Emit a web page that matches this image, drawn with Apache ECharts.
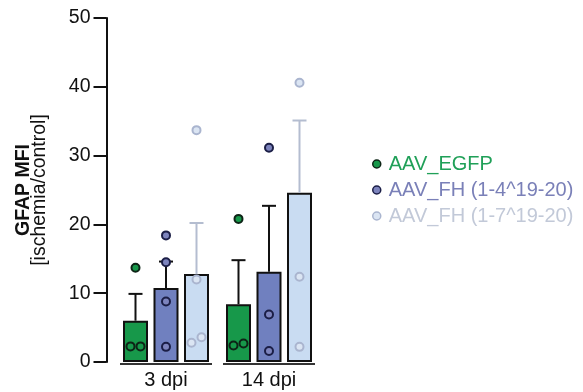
<!DOCTYPE html>
<html>
<head>
<meta charset="utf-8">
<script src="https://cdn.jsdelivr.net/npm/echarts@6/dist/echarts.min.js"></script>
<style>html,body{margin:0;padding:0;background:#fff}#c{width:583px;height:392px}</style>
</head>
<body>
<div id="c"></div>
<script>
// ---- data ----
var categories = ['3 dpi', '14 dpi'];
var seriesNames = ['AAV_EGFP', 'AAV_FH (1-4^19-20)', 'AAV_FH (1-7^19-20)'];
var meanEGFP = [6.0, 8.4];
var meanFH4 = [10.75, 13.1];
var meanFH7 = [12.8, 24.6];
var errEGFP = [3.9, 6.4];
var errFH4 = [3.85, 9.6];
var errFH7 = [7.4, 10.5];
var ptsEGFP = [[2.27, 2.27, 13.7], [2.4, 2.7, 20.8]];
var ptsFH4 = [[2.2, 8.8, 14.5, 18.4], [1.6, 6.9, 31.15]];
var ptsFH7 = [[2.8, 3.6, 12.0, 33.7], [2.2, 12.4, 40.6]];
var yTicks = [0, 10, 20, 30, 40, 50];

// ---- styling ----
var FONT = 'Liberation Sans, Arial, sans-serif';
var barColors = ['#17984a', '#7080bf', '#c9dcf2'];
var errColors = ['#111111', '#111111', '#b4bdd0'];
var ptFill = ['#17984a', '#7d84bd', '#dbe5f3'];
var ptStroke = ['#0d2416', '#1b1e46', '#aab5cf'];
var legendText = ['#20a058', '#7a80b8', '#c2c9d8'];
var BAR_W = 25, BAR_GAP = 0.22;
var STEP = BAR_W * (1 + BAR_GAP);

var means = [meanEGFP, meanFH4, meanFH7];
var errs = [errEGFP, errFH4, errFH7];
var pts = [ptsEGFP, ptsFH4, ptsFH7];

var series = [];
// bars
for (var k = 0; k < 3; k++) {
  series.push({
    name: seriesNames[k], type: 'bar', barWidth: BAR_W, barGap: (BAR_GAP * 100) + '%',
    data: means[k], z: 2,
    itemStyle: { color: barColors[k], borderColor: '#111', borderWidth: 2 },
    emphasis: { disabled: true }
  });
}
// error bars
for (var k = 0; k < 3; k++) {
  (function (k) {
    series.push({
      name: seriesNames[k], type: 'custom', z: 3,
      data: means[k].map(function (m, i) { return [i, m, m + errs[k][i]]; }),
      renderItem: function (params, api) {
        var base = api.coord([api.value(0), api.value(1)]);
        var top = api.coord([api.value(0), api.value(2)]);
        var cx = base[0] + (k - 1) * STEP;
        var st = { stroke: errColors[k], lineWidth: 2 };
        return { type: 'group', children: [
          { type: 'line', shape: { x1: cx, y1: base[1], x2: cx, y2: top[1] }, style: st },
          { type: 'line', shape: { x1: cx - 7, y1: top[1], x2: cx + 7, y2: top[1] }, style: st }
        ] };
      }
    });
  })(k);
}
// points with simple beeswarm spreading of near-equal values
for (var k = 0; k < 3; k++) {
  var data = [];
  pts[k].forEach(function (vals, ci) {
    var sorted = vals.slice().sort(function (a, b) { return a - b; });
    var clusters = [];
    sorted.forEach(function (v) {
      var last = clusters[clusters.length - 1];
      if (last && v - last[last.length - 1] < 1.2) last.push(v); else clusters.push([v]);
    });
    clusters.forEach(function (cl) {
      cl.forEach(function (v, j) {
        var dx = (j - (cl.length - 1) / 2) * 10;
        data.push({ value: [ci, v], symbolOffset: [(k - 1) * STEP + dx, 0] });
      });
    });
  });
  series.push({
    name: seriesNames[k], type: 'scatter', z: 4, symbol: 'circle', symbolSize: 8,
    data: data,
    itemStyle: { color: ptFill[k], borderColor: ptStroke[k], borderWidth: 2, opacity: 1 },
    emphasis: { disabled: true }
  });
}
// group underline
series.push({
  type: 'custom', z: 1, silent: true,
  data: categories.map(function (c, i) { return [i, 0]; }),
  renderItem: function (params, api) {
    var p = api.coord([api.value(0), 0]);
    var half = 1.5 * BAR_W + BAR_GAP * BAR_W + 3;
    return { type: 'line', shape: { x1: p[0] - half, y1: p[1] + 2, x2: p[0] + half, y2: p[1] + 2 },
      style: { stroke: '#333', lineWidth: 2 } };
  }
});

var chart = echarts.init(document.getElementById('c'));
chart.setOption({
  animation: false,
  grid: { left: 114.5, right: 262.5, top: 18, bottom: 30 },
  xAxis: {
    type: 'category', data: categories,
    axisLine: { show: false }, axisTick: { show: false },
    axisLabel: { fontSize: 20, color: '#111', fontFamily: FONT, margin: 8 }
  },
  yAxis: {
    type: 'value', min: yTicks[0], max: yTicks[yTicks.length - 1], interval: 10, offset: 8,
    splitLine: { show: false },
    axisLine: { show: true, lineStyle: { color: '#111', width: 2 } },
    axisTick: { show: true, length: 13, lineStyle: { color: '#111', width: 2 } },
    axisLabel: { fontSize: 19.5, color: '#111', fontFamily: FONT, margin: 16 },
    name: '{b|GFAP MFI}\n{r|[ischemia/control]}',
    nameLocation: 'middle', nameRotate: 90, nameGap: 59,
    nameTextStyle: {
      fontFamily: FONT, color: '#111', lineHeight: 16,
      rich: {
        b: { fontSize: 19.5, fontWeight: 'bold', fontFamily: FONT, color: '#111', lineHeight: 16 },
        r: { fontSize: 19.5, fontFamily: FONT, color: '#111', lineHeight: 16 }
      }
    }
  },
  legend: {
    orient: 'vertical', left: 367, top: 149, itemWidth: 14, itemHeight: 8, itemGap: 6,
    icon: 'circle', selectedMode: false,
    textStyle: { fontSize: 20, fontFamily: FONT },
    data: seriesNames.map(function (n, k) {
      return { name: n, itemStyle: { color: ptFill[k], borderColor: ptStroke[k], borderWidth: 1.5 },
        textStyle: { color: legendText[k], fontSize: 20, fontFamily: FONT } };
    })
  },
  series: series
});
</script>
</body>
</html>
